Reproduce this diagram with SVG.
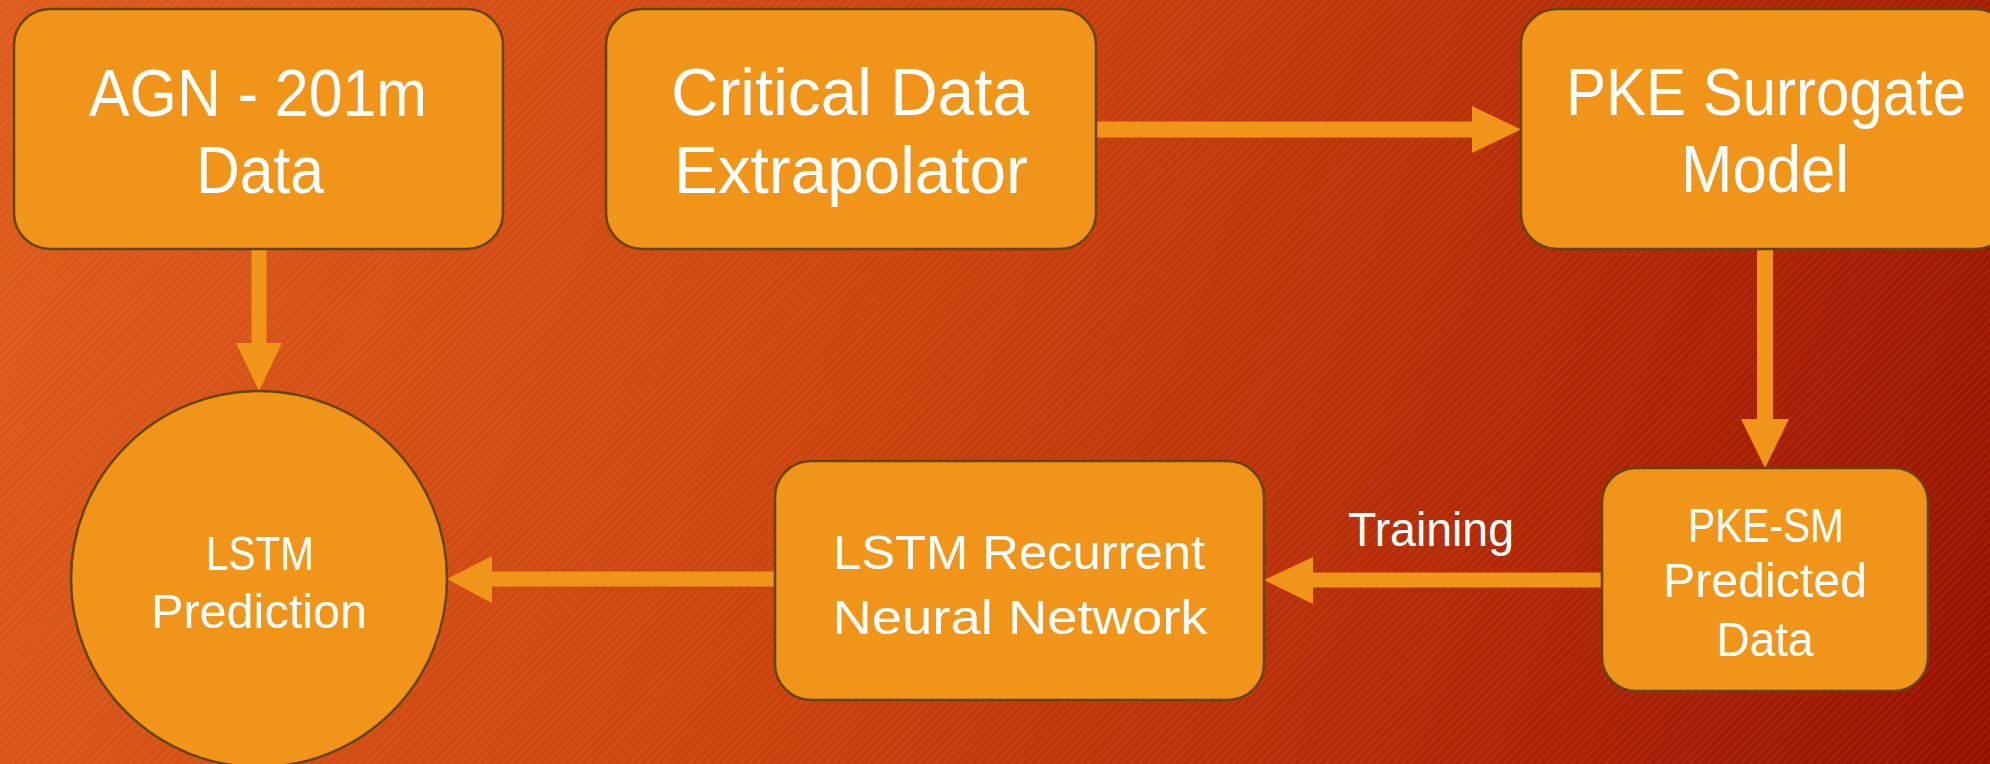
<svg xmlns="http://www.w3.org/2000/svg" width="1990" height="764" viewBox="0 0 1990 764">
<defs>
<linearGradient id="bg" gradientUnits="userSpaceOnUse" x1="0" y1="0" x2="1990" y2="764">
<stop offset="0" stop-color="#DE5C1C"/>
<stop offset="0.45" stop-color="#CB420D"/>
<stop offset="0.75" stop-color="#B22806"/>
<stop offset="1" stop-color="#961000"/>
</linearGradient>
<pattern id="stripes" patternUnits="userSpaceOnUse" width="6" height="6" patternTransform="rotate(45)">
<rect x="0" y="0" width="2" height="6" fill="#ffffff" fill-opacity="0.05"/>
</pattern>
<style>
.box{fill:#F0951A;stroke:#664309;stroke-width:2.5}
.arrow{fill:#F0951A;stroke:none}
.t{fill:#ffffff;font-family:"Liberation Sans","DejaVu Sans",sans-serif;text-anchor:middle}
.big{font-size:66px}
.mid{font-size:49px}
</style>
</defs>
<rect x="0" y="0" width="1990" height="764" fill="url(#bg)"/>
<rect x="0" y="0" width="1990" height="764" fill="url(#stripes)"/>

<g id="connectors">
<path class="arrow" d="M1097,121.5 H1472 V106 L1521,129.5 L1472,153 V137.5 H1097 Z"/>
<path class="arrow" d="M251.5,250 V343 H236 L259,391 L282,343 H266.5 V250 Z"/>
<path class="arrow" d="M1757,250 V419 H1741 L1765,468 L1789,419 H1773 V250 Z"/>
<path class="arrow" d="M1602,572.5 H1313 V557 L1264,580 L1313,604 V587.5 H1602 Z"/>
<path class="arrow" d="M775,571.5 H492 V556 L447,579 L492,603 V586.5 H775 Z"/>
<text class="t mid" x="1431" y="546" textLength="166" lengthAdjust="spacingAndGlyphs">Training</text>
</g>

<g id="node-agn">
<rect class="box" x="14" y="9" width="489" height="240" rx="36" ry="36"/>
<text class="t big" x="258" y="116" textLength="338" lengthAdjust="spacingAndGlyphs">AGN - 201m</text>
<text class="t big" x="260" y="193" textLength="128" lengthAdjust="spacingAndGlyphs">Data</text>
</g>

<g id="node-critical">
<rect class="box" x="606" y="9" width="490" height="240" rx="36" ry="36"/>
<text class="t big" x="850" y="115" textLength="358" lengthAdjust="spacingAndGlyphs">Critical Data</text>
<text class="t big" x="851" y="193" textLength="354" lengthAdjust="spacingAndGlyphs">Extrapolator</text>
</g>

<g id="node-pke">
<rect class="box" x="1521" y="9" width="490" height="240" rx="36" ry="36"/>
<text class="t big" x="1766" y="115" textLength="400" lengthAdjust="spacingAndGlyphs">PKE Surrogate</text>
<text class="t big" x="1765" y="192" textLength="168" lengthAdjust="spacingAndGlyphs">Model</text>
</g>

<g id="node-pkesm">
<rect class="box" x="1602" y="468" width="326" height="223" rx="34" ry="34"/>
<text class="t mid" x="1766" y="542" textLength="156" lengthAdjust="spacingAndGlyphs">PKE-SM</text>
<text class="t mid" x="1765" y="597" textLength="204" lengthAdjust="spacingAndGlyphs">Predicted</text>
<text class="t mid" x="1765" y="656" textLength="97" lengthAdjust="spacingAndGlyphs">Data</text>
</g>

<g id="node-rnn">
<rect class="box" x="775" y="461" width="489" height="239" rx="36" ry="36"/>
<text class="t mid" x="1019" y="569" textLength="372" lengthAdjust="spacingAndGlyphs">LSTM Recurrent</text>
<text class="t mid" x="1020" y="634" textLength="375" lengthAdjust="spacingAndGlyphs">Neural Network</text>
</g>

<g id="node-lstm-prediction">
<circle class="box" cx="259" cy="579" r="188"/>
<text class="t mid" x="260" y="570" textLength="108" lengthAdjust="spacingAndGlyphs">LSTM</text>
<text class="t mid" x="259" y="628" textLength="216" lengthAdjust="spacingAndGlyphs">Prediction</text>
</g>
</svg>
